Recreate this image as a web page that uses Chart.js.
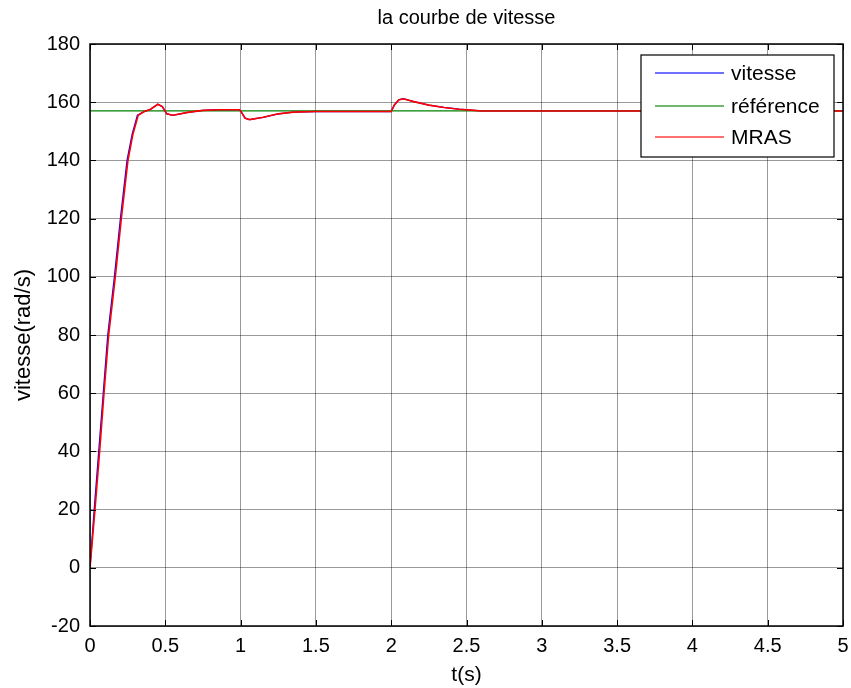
<!DOCTYPE html>
<html>
<head>
<meta charset="utf-8">
<script src="https://cdn.jsdelivr.net/npm/chart.js@4"></script>
<style>
  html, body { margin: 0; padding: 0; background: #fff; }
  canvas { display: block; }
</style>
</head>
<body>
<canvas id="c" width="851" height="688"></canvas>
<script>
// time (s) and speed (rad/s)
const tVitesse = [0, 0.028, 0.058, 0.088, 0.118, 0.162, 0.202, 0.246, 0.28, 0.315, 0.36, 0.40, 0.45, 0.48, 0.51, 0.55, 0.65, 0.75, 0.85, 0.99, 1.0, 1.03, 1.06, 1.15, 1.25, 1.35, 1.5, 2.0, 2.02, 2.05, 2.08, 2.15, 2.25, 2.35, 2.45, 2.55, 2.6, 5];
const vitesse = [0, 20, 40, 60, 80, 100, 120, 140, 149, 155.5, 156.8, 157.5, 159.3, 158.5, 156, 155.5, 156.5, 157.2, 157.4, 157.4, 157, 154.5, 154, 154.8, 156, 156.6, 156.8, 156.8, 159, 160.8, 161.2, 160.2, 159, 158.2, 157.6, 157.2, 157, 157];

const tReference = [0, 5];
const reference = [157, 157];

const tMras = [0, 0.033, 0.064, 0.093, 0.124, 0.168, 0.208, 0.252, 0.285, 0.32, 0.36, 0.40, 0.45, 0.48, 0.51, 0.55, 0.65, 0.75, 0.85, 0.99, 1.0, 1.03, 1.06, 1.15, 1.25, 1.35, 1.5, 2.0, 2.02, 2.05, 2.08, 2.15, 2.25, 2.35, 2.45, 2.55, 2.6, 5];
const mras = [0, 20, 40, 60, 80, 100, 120, 140, 149, 155.5, 156.8, 157.5, 159.3, 158.5, 156, 155.5, 156.5, 157.2, 157.4, 157.4, 157, 154.5, 154, 154.8, 156, 156.6, 156.8, 156.8, 159, 160.8, 161.2, 160.2, 159, 158.2, 157.6, 157.2, 157, 157];

const seriesNames = ["vitesse", "référence", "MRAS"];
const seriesColors = ["#0000ff", "#008000", "#ff0000"];

const pts = (xs, ys) => xs.map((x, i) => ({ x: x, y: ys[i] }));
const FONT = "'Liberation Sans', Arial, Helvetica, sans-serif";

// MATLAB-like decorations: title, box, inward ticks, legend
const matlabDeco = {
  id: "matlabDeco",
  afterDraw(chart) {
    const ctx = chart.ctx;
    const a = chart.chartArea;
    const xs = chart.scales.x, ys = chart.scales.y;
    ctx.save();
    ctx.fillStyle = "#000";
    ctx.font = "20px " + FONT;
    ctx.textAlign = "center";
    ctx.textBaseline = "middle";
    ctx.fillText("la courbe de vitesse", (a.left + a.right) / 2, 18);

    ctx.strokeStyle = "#000";
    ctx.lineWidth = 1;
    ctx.beginPath();
    xs.ticks.forEach(t => {
      const px = Math.round(xs.getPixelForValue(t.value)) + 0.5;
      ctx.moveTo(px, a.bottom); ctx.lineTo(px, a.bottom - 6);
      ctx.moveTo(px, a.top); ctx.lineTo(px, a.top + 6);
    });
    ys.ticks.forEach(t => {
      const py = Math.round(ys.getPixelForValue(t.value)) + 0.5;
      ctx.moveTo(a.left, py); ctx.lineTo(a.left + 6, py);
      ctx.moveTo(a.right, py); ctx.lineTo(a.right - 6, py);
    });
    ctx.stroke();
    ctx.lineWidth = 1.5;
    ctx.strokeRect(a.left, a.top, a.right - a.left, a.bottom - a.top);

    // legend
    const lx = 641, ly = 55, lw = 193, lh = 102;
    ctx.fillStyle = "#fff";
    ctx.fillRect(lx, ly, lw, lh);
    ctx.lineWidth = 1.2;
    ctx.strokeStyle = "#000";
    ctx.strokeRect(lx, ly, lw, lh);
    const rows = [73, 106, 137];
    ctx.font = "21px " + FONT;
    ctx.textAlign = "left";
    seriesNames.forEach((n, i) => {
      ctx.strokeStyle = seriesColors[i];
      ctx.globalAlpha = 0.75;
      ctx.lineWidth = 1.4;
      ctx.beginPath();
      ctx.moveTo(655, rows[i]); ctx.lineTo(724, rows[i]);
      ctx.stroke();
      ctx.globalAlpha = 1;
      ctx.fillStyle = "#000";
      ctx.fillText(n, 731, rows[i] + 1);
    });
    ctx.restore();
  }
};

new Chart(document.getElementById("c"), {
  type: "line",
  data: {
    datasets: [
      { label: seriesNames[0], data: pts(tVitesse, vitesse), borderColor: seriesColors[0], borderWidth: 1.3, pointRadius: 0, order: 3 },
      { label: seriesNames[1], data: pts(tReference, reference), borderColor: seriesColors[1], borderWidth: 1.3, pointRadius: 0, order: 2 },
      { label: seriesNames[2], data: pts(tMras, mras), borderColor: seriesColors[2], borderWidth: 1.6, pointRadius: 0, order: 1 }
    ]
  },
  options: {
    responsive: false,
    animation: false,
    events: [],
    layout: { padding: { top: 44, right: 8, left: 0, bottom: 0 } },
    plugins: { legend: { display: false }, tooltip: { enabled: false } },
    scales: {
      x: {
        type: "linear", min: 0, max: 5,
        afterFit: s => { s.height = 62; s.paddingRight = 0; s.paddingLeft = 0; },
        border: { display: false },
        grid: { color: "rgba(0,0,0,0.4)", drawTicks: false },
        ticks: { stepSize: 0.5, padding: 8, color: "#000", font: { family: FONT, size: 20 }, callback: v => String(v) },
        title: { display: true, text: "t(s)", color: "#000", font: { family: FONT, size: 21 }, padding: { top: 0, bottom: 0 } }
      },
      y: {
        min: -20, max: 180,
        afterFit: s => { s.width = 90; s.paddingTop = 0; s.paddingBottom = 0; },
        border: { display: false },
        grid: { color: "rgba(0,0,0,0.4)", drawTicks: false },
        ticks: { stepSize: 20, padding: 10, color: "#000", font: { family: FONT, size: 20 } },
        title: { display: true, text: "vitesse(rad/s)", color: "#000", font: { family: FONT, size: 22 }, padding: { top: 11, bottom: 0 } }
      }
    }
  },
  plugins: [matlabDeco]
});
</script>
</body>
</html>
